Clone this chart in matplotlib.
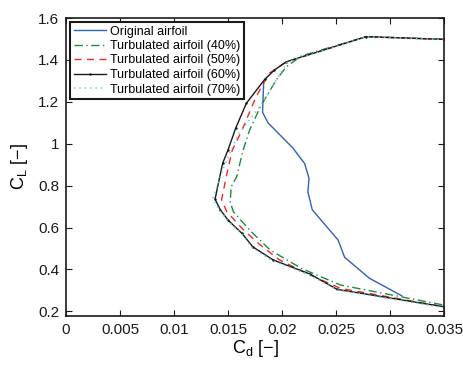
import matplotlib
matplotlib.use("Agg")
import matplotlib.pyplot as plt
from matplotlib.ticker import FixedLocator, FuncFormatter

plt.rcParams['font.family'] = ['Liberation Sans', 'DejaVu Sans']
plt.rcParams['mathtext.fontset'] = 'custom'
plt.rcParams['mathtext.rm'] = 'Liberation Sans'
plt.rcParams['mathtext.it'] = 'Liberation Sans'

# Original airfoil
cd_orig = [0.0183, 0.0182, 0.0187, 0.0210, 0.0221, 0.0225, 0.0224, 0.0228, 0.0252, 0.0258, 0.0281, 0.0311]
cl_orig = [1.29, 1.15, 1.10, 0.98, 0.905, 0.835, 0.77, 0.685, 0.54, 0.458, 0.358, 0.274]

# Turbulated 40%
cd_40 = [0.0350, 0.0278, 0.0218, 0.0204, 0.0195, 0.0180, 0.0170, 0.0164, 0.0158, 0.0153, 0.0152, 0.0155, 0.0170, 0.0189, 0.0218, 0.0254, 0.0350]
cl_40 = [1.498, 1.511, 1.419, 1.367, 1.307, 1.177, 1.065, 0.970, 0.842, 0.795, 0.723, 0.675, 0.588, 0.493, 0.405, 0.326, 0.230]

# Turbulated 50%
cd_50 = [0.0350, 0.0278, 0.0204, 0.0193, 0.0188, 0.0176, 0.0163, 0.0154, 0.0149, 0.0144, 0.0149, 0.0163, 0.0180, 0.0198, 0.0223, 0.0254, 0.0350]
cl_50 = [1.498, 1.511, 1.391, 1.352, 1.336, 1.224, 1.065, 0.970, 0.858, 0.731, 0.675, 0.596, 0.516, 0.445, 0.381, 0.310, 0.222]

# Turbulated 60%
cd_60 = [0.0350, 0.0278, 0.0204, 0.0193, 0.0184, 0.0167, 0.0157, 0.0150, 0.0145, 0.0138, 0.0143, 0.0150, 0.0163, 0.0173, 0.0192, 0.0226, 0.0251, 0.0350]
cl_60 = [1.498, 1.511, 1.391, 1.352, 1.307, 1.193, 1.073, 0.970, 0.906, 0.735, 0.684, 0.636, 0.572, 0.508, 0.445, 0.378, 0.305, 0.222]

# Turbulated 70%
cd_70 = [0.0350, 0.0278, 0.0205, 0.0195, 0.0180, 0.0160, 0.0147, 0.0136, 0.0142, 0.0150, 0.0163, 0.0172, 0.0191, 0.0225, 0.0251, 0.0350]
cl_70 = [1.497, 1.510, 1.390, 1.307, 1.180, 1.050, 0.900, 0.739, 0.684, 0.630, 0.568, 0.505, 0.442, 0.375, 0.302, 0.218]

labels = ['Original airfoil', 'Turbulated airfoil (40%)', 'Turbulated airfoil (50%)',
          'Turbulated airfoil (60%)', 'Turbulated airfoil (70%)']
xticks = [0, 0.005, 0.01, 0.015, 0.02, 0.025, 0.03, 0.035]
yticks = [0.2, 0.4, 0.6, 0.8, 1.0, 1.2, 1.4, 1.6]

fig = plt.figure(figsize=(4.63, 3.65), dpi=100)
ax = fig.add_axes([66/463, 1-316/365, (444-66)/463, (316-18)/365])

ax.plot(cd_orig, cl_orig, color='#2f62b8', lw=1.0, label=labels[0])
ax.plot(cd_40, cl_40, color='#1c8c3c', lw=1.0, linestyle=(0, (6, 2.5, 1, 2.5)), label=labels[1])
ax.plot(cd_50, cl_50, color='#ec2a2a', lw=1.0, linestyle=(0, (5, 4)), label=labels[2])
ax.plot(cd_60, cl_60, color='#1a1a1a', lw=1.0, marker='.', markersize=1.5, label=labels[3])
ax.plot(cd_70, cl_70, color='#6fd0d0', lw=1.1, linestyle=(0, (1, 2.5)), label=labels[4])

ax.set_xlim(0, 0.035)
ax.set_ylim(0.178, 1.6)
ax.xaxis.set_major_locator(FixedLocator(xticks))
ax.yaxis.set_major_locator(FixedLocator(yticks))
fmt = FuncFormatter(lambda v, p: ('%g' % round(v, 4)))
ax.xaxis.set_major_formatter(fmt)
ax.yaxis.set_major_formatter(fmt)
ax.tick_params(direction='in', length=4, width=0.8, top=True, right=True,
               labelsize=11, colors='#1a1a1a', pad=5)
for s in ax.spines.values():
    s.set_linewidth(1.2)
    s.set_color('#1a1a1a')

ax.set_xlabel(r'$\mathregular{C_d}$ [−]', fontsize=13, labelpad=1)
ax.set_ylabel(r'$\mathregular{C_L}$ [−]', fontsize=13, labelpad=6)

leg = ax.legend(loc='upper left', fontsize=9, handlelength=2.6, handletextpad=0.3,
                labelspacing=0.2, borderpad=0.3, borderaxespad=0.3,
                fancybox=False, framealpha=1, edgecolor='#1a1a1a')
leg.get_frame().set_linewidth(1.5)

fig.savefig('out.png', dpi=100)
